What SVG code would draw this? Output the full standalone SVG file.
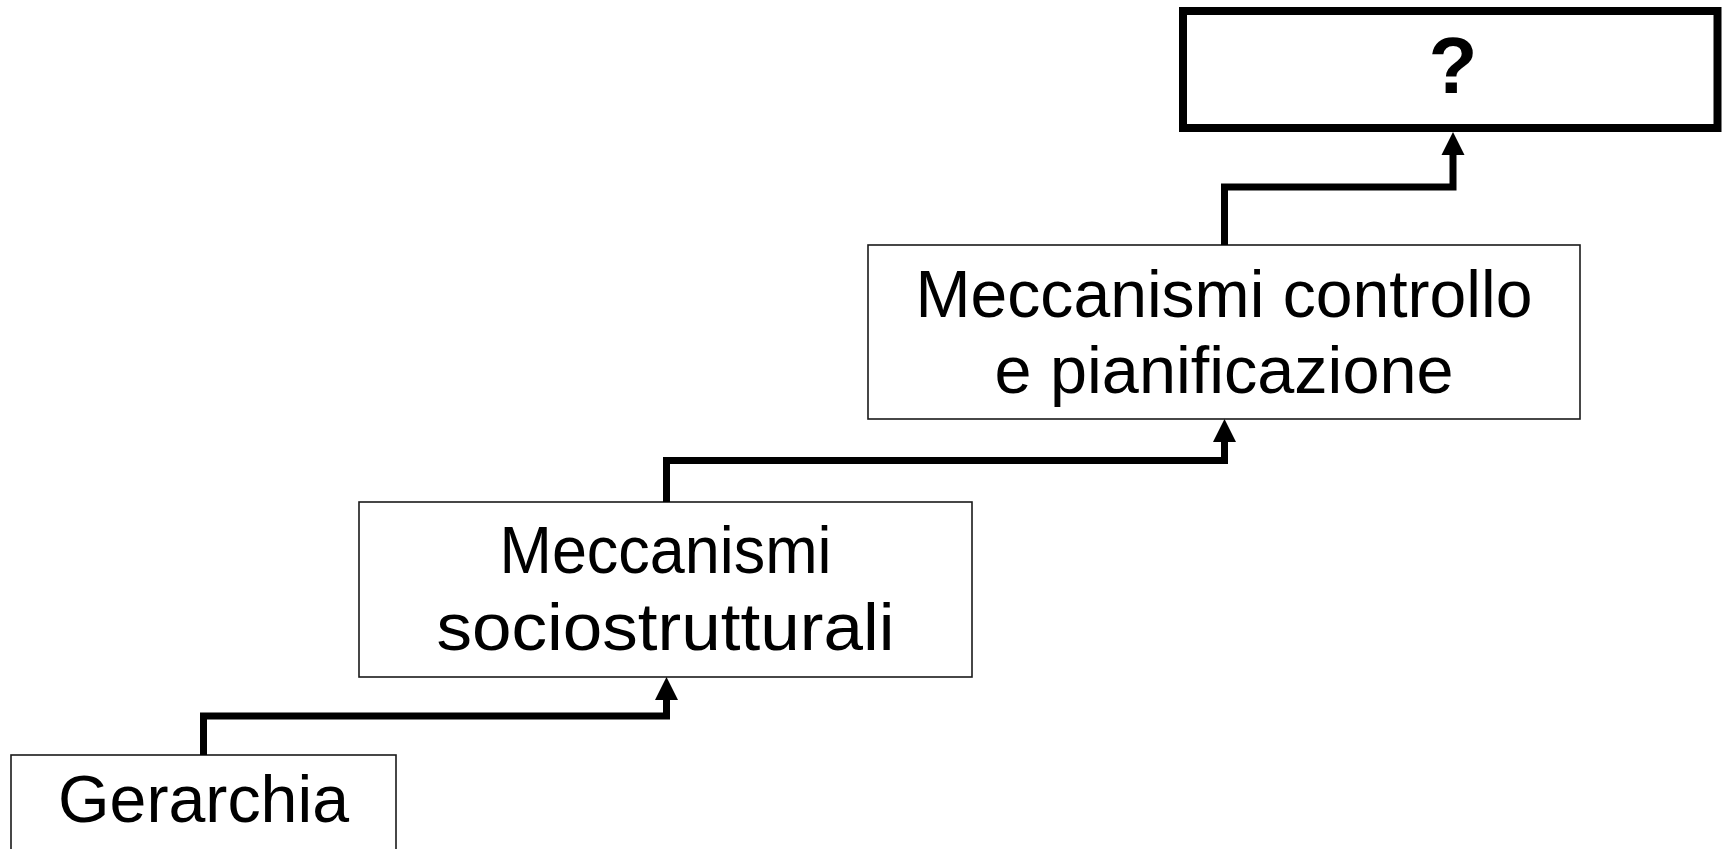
<svg xmlns="http://www.w3.org/2000/svg" width="1722" height="849" viewBox="0 0 1722 849">
  <defs>
    <style>
      .box { fill: #ffffff; stroke: #1a1a1a; stroke-width: 1.6; }
      .box-bold { fill: #ffffff; stroke: #000000; stroke-width: 8; }
      .label { font-family: "Liberation Sans", Arial, sans-serif; font-size: 66px; fill: #000000; text-anchor: middle; }
      .label-bold { font-family: "Liberation Sans", Arial, sans-serif; font-size: 80px; font-weight: bold; fill: #000000; text-anchor: middle; }
      .link { fill: none; stroke: #000000; stroke-width: 7; stroke-linejoin: miter; stroke-linecap: butt; }
    </style>
    <marker id="arrow" markerUnits="userSpaceOnUse" markerWidth="23" markerHeight="23" refX="0" refY="11.5" orient="auto" overflow="visible">
      <path d="M0,0 L23,11.5 L0,23 z" fill="#000000"/>
    </marker>
  </defs>

  <rect width="1722" height="849" fill="#ffffff"/>

  <!-- steps -->
  <g id="node-gerarchia">
    <rect class="box" x="11" y="755" width="385" height="110"/>
    <text class="label" x="203.5" y="822" textLength="291" lengthAdjust="spacingAndGlyphs">Gerarchia</text>
  </g>

  <g id="node-sociostrutturali">
    <rect class="box" x="359" y="502" width="613" height="175"/>
    <text class="label" x="665.5" y="573" textLength="332" lengthAdjust="spacingAndGlyphs">Meccanismi</text>
    <text class="label" x="665.5" y="650" textLength="458" lengthAdjust="spacingAndGlyphs">sociostrutturali</text>
  </g>

  <g id="node-controllo">
    <rect class="box" x="868" y="245" width="712" height="174"/>
    <text class="label" x="1224" y="317" textLength="617" lengthAdjust="spacingAndGlyphs">Meccanismi controllo</text>
    <text class="label" x="1224" y="393" textLength="459" lengthAdjust="spacingAndGlyphs">e pianificazione</text>
  </g>

  <g id="node-unknown">
    <rect class="box-bold" x="1183" y="11" width="534.5" height="117"/>
    <text class="label-bold" x="1453" y="93">?</text>
  </g>

  <!-- stepped connectors -->
  <g id="connectors">
    <path class="link" d="M203.5,755 V716 H666.5 V700" marker-end="url(#arrow)"/>
    <path class="link" d="M666.5,502 V460.5 H1224.5 V442" marker-end="url(#arrow)"/>
    <path class="link" d="M1224.5,245 V187 H1453 V155" marker-end="url(#arrow)"/>
  </g>
</svg>
